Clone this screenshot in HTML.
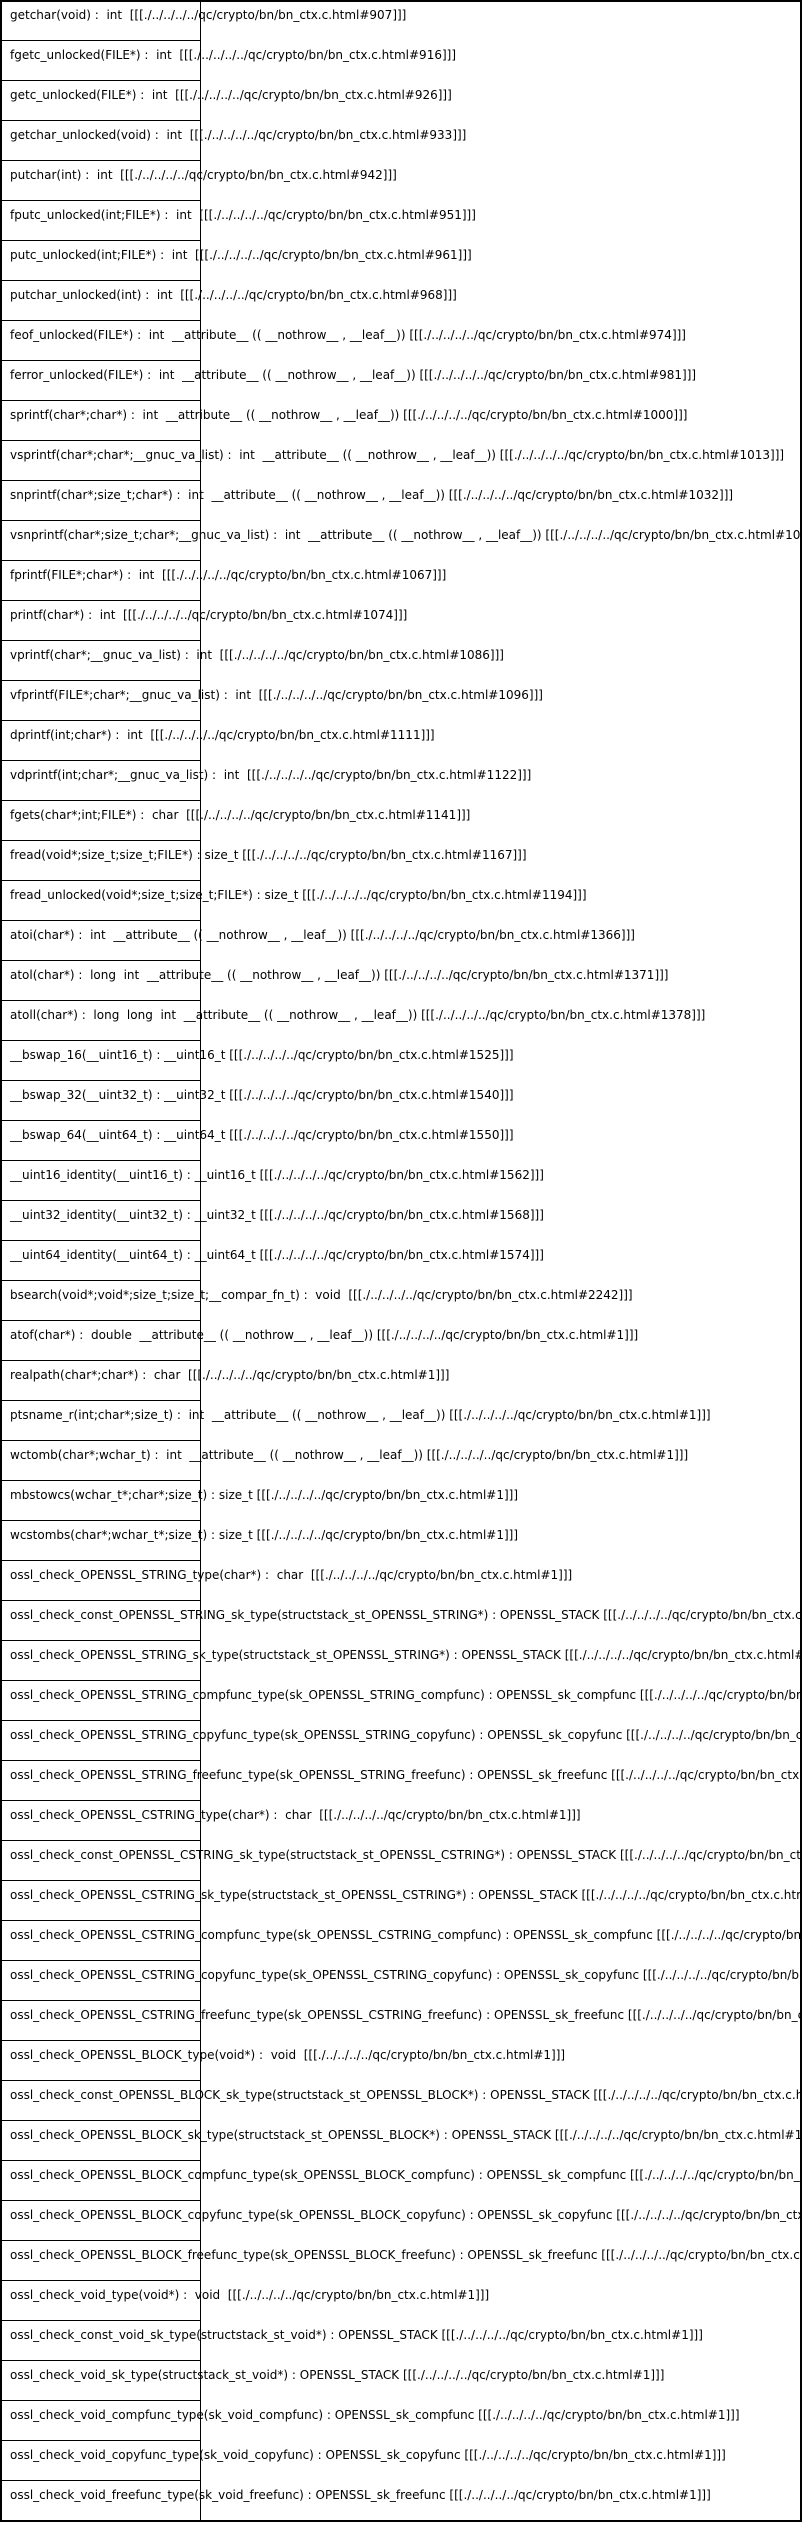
<!DOCTYPE html>
<html><head><meta charset="utf-8"><style>
html,body{margin:0;padding:0;background:#fff;}
#c{position:relative;width:802px;height:2522px;overflow:hidden;font-family:"DejaVu Sans",sans-serif;font-size:12px;color:#000;}
.o{position:absolute;left:0;top:0;width:798px;height:2518px;border:2px solid #000;}
.v{position:absolute;left:200px;top:0;width:1px;height:2522px;background:#000;}
.r{position:absolute;left:0;width:201px;height:1px;background:#000;}
.t{position:absolute;left:10px;white-space:pre;line-height:20px;}
</style></head><body><div id="c">
<div class="o"></div><div class="v"></div>
<script>
var L=[
"getchar(void) :  int  [[[./../../../../qc/crypto/bn/bn_ctx.c.html#907]]]",
"fgetc_unlocked(FILE*) :  int  [[[./../../../../qc/crypto/bn/bn_ctx.c.html#916]]]",
"getc_unlocked(FILE*) :  int  [[[./../../../../qc/crypto/bn/bn_ctx.c.html#926]]]",
"getchar_unlocked(void) :  int  [[[./../../../../qc/crypto/bn/bn_ctx.c.html#933]]]",
"putchar(int) :  int  [[[./../../../../qc/crypto/bn/bn_ctx.c.html#942]]]",
"fputc_unlocked(int;FILE*) :  int  [[[./../../../../qc/crypto/bn/bn_ctx.c.html#951]]]",
"putc_unlocked(int;FILE*) :  int  [[[./../../../../qc/crypto/bn/bn_ctx.c.html#961]]]",
"putchar_unlocked(int) :  int  [[[./../../../../qc/crypto/bn/bn_ctx.c.html#968]]]",
"feof_unlocked(FILE*) :  int  __attribute__ (( __nothrow__ , __leaf__)) [[[./../../../../qc/crypto/bn/bn_ctx.c.html#974]]]",
"ferror_unlocked(FILE*) :  int  __attribute__ (( __nothrow__ , __leaf__)) [[[./../../../../qc/crypto/bn/bn_ctx.c.html#981]]]",
"sprintf(char*;char*) :  int  __attribute__ (( __nothrow__ , __leaf__)) [[[./../../../../qc/crypto/bn/bn_ctx.c.html#1000]]]",
"vsprintf(char*;char*;__gnuc_va_list) :  int  __attribute__ (( __nothrow__ , __leaf__)) [[[./../../../../qc/crypto/bn/bn_ctx.c.html#1013]]]",
"snprintf(char*;size_t;char*) :  int  __attribute__ (( __nothrow__ , __leaf__)) [[[./../../../../qc/crypto/bn/bn_ctx.c.html#1032]]]",
"vsnprintf(char*;size_t;char*;__gnuc_va_list) :  int  __attribute__ (( __nothrow__ , __leaf__)) [[[./../../../../qc/crypto/bn/bn_ctx.c.html#1048]]]",
"fprintf(FILE*;char*) :  int  [[[./../../../../qc/crypto/bn/bn_ctx.c.html#1067]]]",
"printf(char*) :  int  [[[./../../../../qc/crypto/bn/bn_ctx.c.html#1074]]]",
"vprintf(char*;__gnuc_va_list) :  int  [[[./../../../../qc/crypto/bn/bn_ctx.c.html#1086]]]",
"vfprintf(FILE*;char*;__gnuc_va_list) :  int  [[[./../../../../qc/crypto/bn/bn_ctx.c.html#1096]]]",
"dprintf(int;char*) :  int  [[[./../../../../qc/crypto/bn/bn_ctx.c.html#1111]]]",
"vdprintf(int;char*;__gnuc_va_list) :  int  [[[./../../../../qc/crypto/bn/bn_ctx.c.html#1122]]]",
"fgets(char*;int;FILE*) :  char  [[[./../../../../qc/crypto/bn/bn_ctx.c.html#1141]]]",
"fread(void*;size_t;size_t;FILE*) : size_t [[[./../../../../qc/crypto/bn/bn_ctx.c.html#1167]]]",
"fread_unlocked(void*;size_t;size_t;FILE*) : size_t [[[./../../../../qc/crypto/bn/bn_ctx.c.html#1194]]]",
"atoi(char*) :  int  __attribute__ (( __nothrow__ , __leaf__)) [[[./../../../../qc/crypto/bn/bn_ctx.c.html#1366]]]",
"atol(char*) :  long  int  __attribute__ (( __nothrow__ , __leaf__)) [[[./../../../../qc/crypto/bn/bn_ctx.c.html#1371]]]",
"atoll(char*) :  long  long  int  __attribute__ (( __nothrow__ , __leaf__)) [[[./../../../../qc/crypto/bn/bn_ctx.c.html#1378]]]",
"__bswap_16(__uint16_t) : __uint16_t [[[./../../../../qc/crypto/bn/bn_ctx.c.html#1525]]]",
"__bswap_32(__uint32_t) : __uint32_t [[[./../../../../qc/crypto/bn/bn_ctx.c.html#1540]]]",
"__bswap_64(__uint64_t) : __uint64_t [[[./../../../../qc/crypto/bn/bn_ctx.c.html#1550]]]",
"__uint16_identity(__uint16_t) : __uint16_t [[[./../../../../qc/crypto/bn/bn_ctx.c.html#1562]]]",
"__uint32_identity(__uint32_t) : __uint32_t [[[./../../../../qc/crypto/bn/bn_ctx.c.html#1568]]]",
"__uint64_identity(__uint64_t) : __uint64_t [[[./../../../../qc/crypto/bn/bn_ctx.c.html#1574]]]",
"bsearch(void*;void*;size_t;size_t;__compar_fn_t) :  void  [[[./../../../../qc/crypto/bn/bn_ctx.c.html#2242]]]",
"atof(char*) :  double  __attribute__ (( __nothrow__ , __leaf__)) [[[./../../../../qc/crypto/bn/bn_ctx.c.html#1]]]",
"realpath(char*;char*) :  char  [[[./../../../../qc/crypto/bn/bn_ctx.c.html#1]]]",
"ptsname_r(int;char*;size_t) :  int  __attribute__ (( __nothrow__ , __leaf__)) [[[./../../../../qc/crypto/bn/bn_ctx.c.html#1]]]",
"wctomb(char*;wchar_t) :  int  __attribute__ (( __nothrow__ , __leaf__)) [[[./../../../../qc/crypto/bn/bn_ctx.c.html#1]]]",
"mbstowcs(wchar_t*;char*;size_t) : size_t [[[./../../../../qc/crypto/bn/bn_ctx.c.html#1]]]",
"wcstombs(char*;wchar_t*;size_t) : size_t [[[./../../../../qc/crypto/bn/bn_ctx.c.html#1]]]"
];
function grp(N,T){
 return [
 "ossl_check_"+N+"_type("+T+") :  "+(T=="char*"?"char":"void")+"  [[[./../../../../qc/crypto/bn/bn_ctx.c.html#1]]]",
 "ossl_check_const_"+N+"_sk_type(structstack_st_"+N+"*) : OPENSSL_STACK [[[./../../../../qc/crypto/bn/bn_ctx.c.html#1]]]",
 "ossl_check_"+N+"_sk_type(structstack_st_"+N+"*) : OPENSSL_STACK [[[./../../../../qc/crypto/bn/bn_ctx.c.html#1]]]",
 "ossl_check_"+N+"_compfunc_type(sk_"+N+"_compfunc) : OPENSSL_sk_compfunc [[[./../../../../qc/crypto/bn/bn_ctx.c.html#1]]]",
 "ossl_check_"+N+"_copyfunc_type(sk_"+N+"_copyfunc) : OPENSSL_sk_copyfunc [[[./../../../../qc/crypto/bn/bn_ctx.c.html#1]]]",
 "ossl_check_"+N+"_freefunc_type(sk_"+N+"_freefunc) : OPENSSL_sk_freefunc [[[./../../../../qc/crypto/bn/bn_ctx.c.html#1]]]"];
}
L=L.concat(grp("OPENSSL_STRING","char*"),grp("OPENSSL_CSTRING","char*"),grp("OPENSSL_BLOCK","void*"),grp("void","void*"));
var h="";
for(var i=0;i<L.length;i++){
 var y=i*40;
 h+='<div class="t" style="top:'+(y+5)+'px">'+L[i].replace(/&/g,"&amp;").replace(/</g,"&lt;")+'</div>';
 if(i>0)h+='<div class="r" style="top:'+y+'px"></div>';
}
document.write(h);
</script>
</div></body></html>
